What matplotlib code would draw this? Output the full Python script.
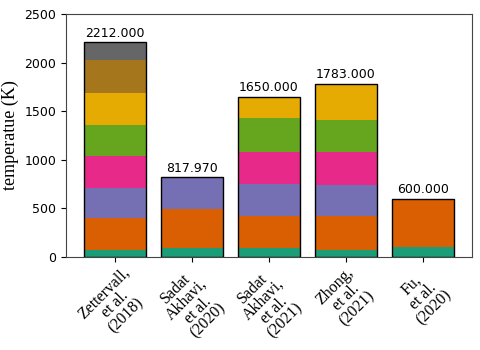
import matplotlib
matplotlib.use("Agg")
import matplotlib.pyplot as plt
import numpy as np

studies = ["Zettervall,\net al.\n(2018)", "Sadat\nAkhavi,\net al.\n(2020)",
           "Sadat\nAkhavi,\net al.\n(2021)", "Zhong,\net al.\n(2021)",
           "Fu,\net al.\n(2020)"]
totals = [2212.0, 817.97, 1650.0, 1783.0, 600.0]

# segment heights per layer (bottom to top), one value per study
layer1 = [72, 88, 89, 72, 100]
layer2 = [328, 402, 329, 346, 500]
layer3 = [309, 327.97, 332, 318, 0]
layer4 = [332, 0, 329, 343, 0]
layer5 = [315, 0, 349, 325, 0]
layer6 = [336, 0, 222, 366, 0]
layer7 = [335, 0, 0, 13, 0]
layer8 = [185, 0, 0, 0, 0]
layers = [layer1, layer2, layer3, layer4, layer5, layer6, layer7, layer8]

colors = plt.get_cmap("Dark2").colors

fig = plt.figure(figsize=(4.8, 3.5), dpi=100)
ax = fig.add_axes([0.1375, 0.266, 0.846, 0.694])
x = np.arange(len(studies))
bottom = np.zeros(len(studies))
for i, lay in enumerate(layers):
    lay = np.array(lay, dtype=float)
    ax.bar(x, lay, 0.8, bottom=bottom, color=colors[i], edgecolor="none")
    bottom += lay
# outline of each bar
ax.bar(x, totals, 0.8, fill=False, edgecolor="black", linewidth=1.0)
for xi, t in zip(x, totals):
    ax.text(xi, t + 25, f"{t:.3f}", ha="center", va="bottom", fontsize=9)

ax.set_ylim(0, 2500)
ax.set_yticks([0, 500, 1000, 1500, 2000, 2500])
ax.tick_params(axis="y", labelsize=9)
ax.tick_params(axis="x", pad=2)
ax.set_xticks(x)
ax.set_xticklabels(studies, rotation=45, ha="center", linespacing=0.95,
                   family="Liberation Serif", fontsize=11.5, multialignment="center")
ax.set_ylabel("temperatue (K)", family="Liberation Serif", fontsize=13)
for s in ax.spines.values():
    s.set_color("#444444")
fig.savefig("out.png", dpi=100)
